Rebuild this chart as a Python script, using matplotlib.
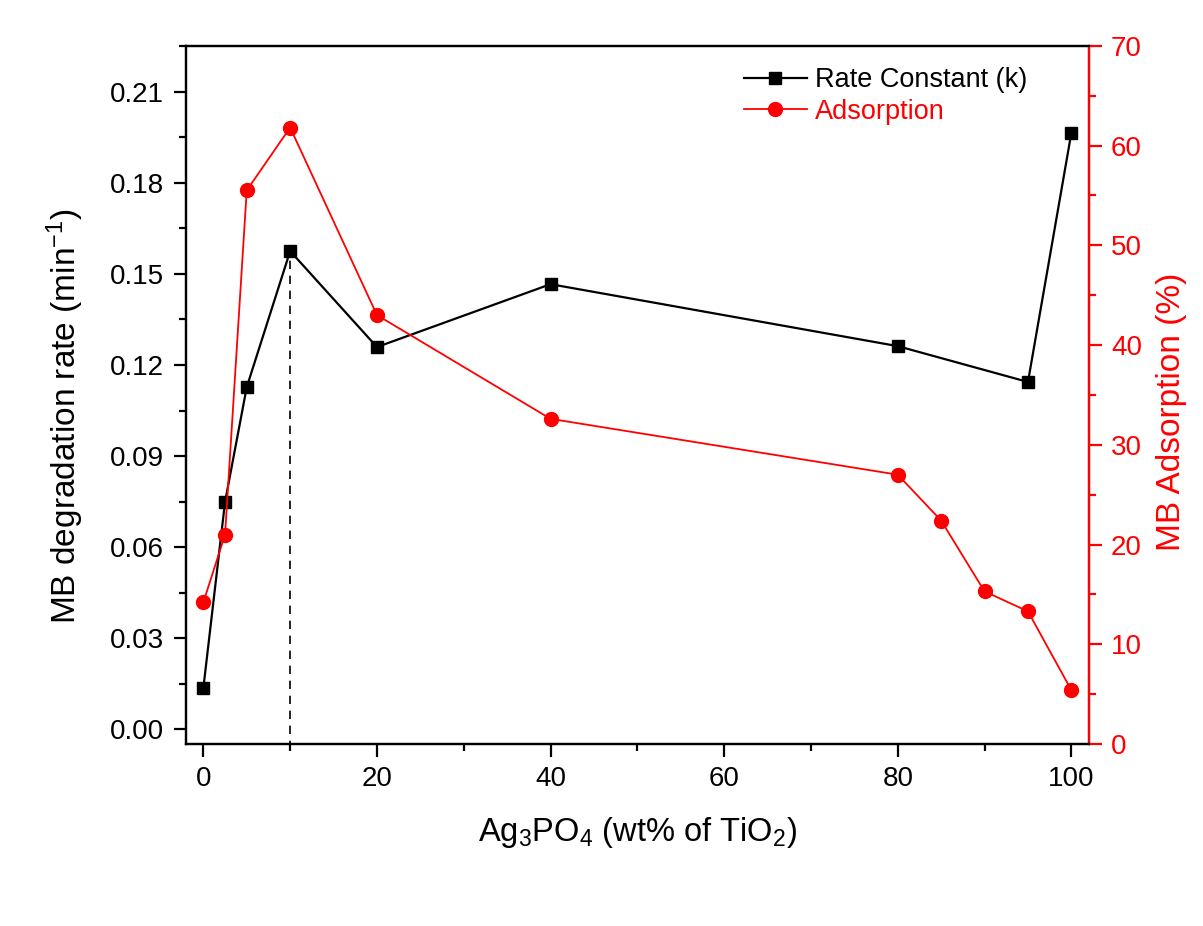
import matplotlib
matplotlib.use('Agg')
import matplotlib.pyplot as plt
from matplotlib.ticker import MultipleLocator, FormatStrFormatter

plt.rcParams['font.family'] = ['Liberation Sans', 'DejaVu Sans']
plt.rcParams['mathtext.fontset'] = 'custom'
plt.rcParams['mathtext.rm'] = 'Liberation Sans'
plt.rcParams['mathtext.it'] = 'Liberation Sans'

# data
k_x = [0, 2.5, 5, 10, 20, 40, 80, 95, 100]
k_vals = [0.0136, 0.0749, 0.1127, 0.1575, 0.1259, 0.1466, 0.1262, 0.1144, 0.1964]
ads_x = [0, 2.5, 5, 10, 20, 40, 80, 85, 90, 95, 100]
ads_vals = [14.2, 21.0, 55.5, 61.8, 43.0, 32.6, 27.0, 22.4, 15.3, 13.3, 5.4]
peak_x = 10
peak_k = 0.1575

fig = plt.figure(figsize=(12.03, 9.26), dpi=100)
ax = fig.add_axes((0.1546, 0.1965, 0.905 - 0.1546, 0.9506 - 0.1965))
ax2 = ax.twinx()

l1, = ax.plot(k_x, k_vals, color='black', lw=1.6, marker='s', ms=9,
              label='Rate Constant (k)', zorder=3)
l2, = ax2.plot(ads_x, ads_vals, color='red', lw=1.3, marker='o', ms=10,
               label='Adsorption', zorder=3)
ax.plot([peak_x, peak_x], [-0.0065, peak_k], color='black', lw=1.2,
        ls=(0, (5, 4)), clip_on=False, zorder=2)

ax.set_xlim(-2, 102)
ax.set_ylim(-0.0048, 0.2251)
ax2.set_ylim(0, 70)

ax.xaxis.set_major_locator(MultipleLocator(20))
ax.xaxis.set_minor_locator(MultipleLocator(10))
ax.yaxis.set_major_locator(MultipleLocator(0.03))
ax.yaxis.set_minor_locator(MultipleLocator(0.015))
ax.yaxis.set_major_formatter(FormatStrFormatter('%.2f'))
ax2.yaxis.set_major_locator(MultipleLocator(10))
ax2.yaxis.set_minor_locator(MultipleLocator(5))

for a in (ax, ax2):
    for s in a.spines.values():
        s.set_linewidth(1.6)
ax2.spines['right'].set_color('red')

ax.tick_params(axis='both', which='major', direction='out', length=9, width=1.6,
               labelsize=20, pad=7)
ax.tick_params(axis='both', which='minor', direction='out', length=5, width=1.6)
ax2.tick_params(axis='y', which='major', direction='out', length=9, width=1.6,
                labelsize=20, colors='red', pad=7)
ax2.tick_params(axis='y', which='minor', direction='out', length=5, width=1.6,
                colors='red')

ax.set_xlabel(r'Ag$_3$PO$_4$ (wt% of TiO$_2$)', fontsize=23.5, labelpad=16.5)
ax.set_ylabel(r'MB degradation rate (min$^{-1}$)', fontsize=24, labelpad=17)
ax2.set_ylabel('MB Adsorption (%)', fontsize=24, color='red', labelpad=10)
ax.yaxis.label.set_y(0.47)
ax2.yaxis.label.set_y(0.476)

leg = ax2.legend(handles=[l1, l2], loc='upper left', bbox_to_anchor=(0.5906, 1.004),
                 frameon=False, fontsize=19.5, handlelength=2.33, handletextpad=0.3,
                 labelspacing=0.2)
for txt, c in zip(leg.get_texts(), ['black', 'red']):
    txt.set_color(c)

fig.savefig('out.png', dpi=100)
